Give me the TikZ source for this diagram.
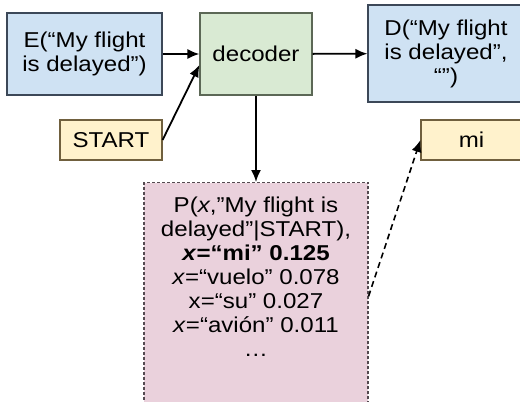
\documentclass[tikz,border=0pt]{standalone}
\usepackage{fontspec}
\setmainfont[FakeStretch=1.12]{Liberation Sans}
\usetikzlibrary{calc,arrows.meta}

\begin{document}
\begin{tikzpicture}[x=1pt,y=-1pt,
  font=\fontsize{21.5}{24}\selectfont,
  box/.style={draw,line width=1.1pt,inner sep=0pt,align=center},
  arr/.style={-{Latex[length=12pt,width=10pt]},line width=1.8pt,black}]
\definecolor{g_blue}{RGB}{207,226,243}   %#CFE2F3
\definecolor{g_green}{RGB}{217,234,211}  %#D9EAD3
\definecolor{g_yellow}{RGB}{255,242,204} %#FFF2CC
\definecolor{g_pink}{RGB}{234,209,220}   %#EAD1DC
\definecolor{b_blue}{RGB}{60,72,88}
\definecolor{b_green}{RGB}{92,104,86}
\definecolor{b_yellow}{RGB}{112,96,62}
\definecolor{b_pink}{RGB}{84,74,80}

\useasboundingbox (0,0) rectangle (520,402);

\node (enc) [box,b_blue,fill=g_blue,text=black,minimum width=155,minimum height=82]
  at (84.5,54) {E(“My flight\\is delayed”)};
\node (dec) [box,b_green,fill=g_green,text=black,minimum width=112,minimum height=82]
  at (256,54) {decoder};
\node (D) [box,b_blue,fill=g_blue,text=black,minimum width=156,minimum height=97]
  at (446,53.5) {D(“My flight\\is delayed”,\\“”)};
\node (start) [box,b_yellow,fill=g_yellow,text=black,minimum width=102,minimum height=40]
  at (111,140) {START};
\node (mi) [box,b_yellow,fill=g_yellow,text=black,minimum width=101,minimum height=40]
  at (471.5,140) {mi};
\node (P) [box,b_pink,fill=g_pink,text=black,dash pattern=on 3pt off 2pt,
  minimum width=224,inner ysep=14pt,anchor=north] at (256,182)
  {P(\textit{x},”My flight is\\
   delayed”|START),\\
   \textbf{\textit{x}=“mi” 0.125}\\
   \textit{x}=“vuelo” 0.078\\
   x=“su” 0.027\\
   \textit{x}=“avión” 0.011\\
   …\rule[-40pt]{0pt}{40pt}};

\draw [arr] (enc) -- (dec);
\draw [arr] (start.east) -- ($(dec.west)+(0,11)$);
\draw [arr] (dec) -- (D);
\draw [arr] (dec) -- (P);
\draw [arr,dash pattern=on 6pt off 4pt,line width=1.6pt] (P.east) -- (mi.west);

\end{tikzpicture}
\end{document}
